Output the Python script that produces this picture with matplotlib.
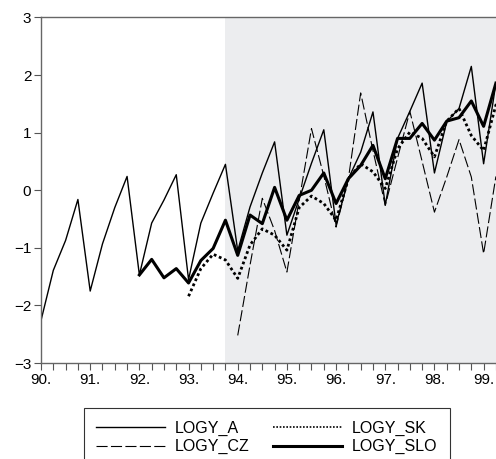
import numpy as np
import matplotlib
matplotlib.use("Agg")
import matplotlib.pyplot as plt
from matplotlib.ticker import MultipleLocator

plt.rcParams['font.family'] = ['Liberation Sans', 'DejaVu Sans']

# quarterly data, 1990Q1 .. 1999Q3
start_year = 90
n_quarters = 39

logy_a = [-2.26, -1.39, -0.87, -0.16, -1.75, -0.93, -0.30, 0.24,
          -1.47, -0.57, -0.17, 0.27, -1.55, -0.57, -0.05, 0.45,
          -1.05, -0.29, 0.30, 0.84, -0.78, -0.15, 0.47, 1.05,
          -0.60, 0.20, 0.66, 1.36, -0.26, 0.90, 1.37, 1.86,
          0.30, 1.19, 1.42, 2.15, 0.46, 1.86]
logy_cz = [-2.52, -1.30, -0.14, -0.70, -1.42, -0.17, 1.07, 0.25,
           -0.64, 0.20, 1.69, 0.69, -0.26, 0.56, 1.37, 0.50,
           -0.38, 0.23, 0.88, 0.23, -1.10, 0.24]
logy_sk = [-1.84, -1.36, -1.11, -1.21, -1.53, -0.95, -0.67, -0.78,
           -1.04, -0.30, -0.10, -0.23, -0.52, 0.20, 0.46, 0.32,
           0.03, 0.72, 1.01, 0.90, 0.58, 1.20, 1.42, 0.95,
           0.69, 1.48, 1.50]
logy_slo = [-1.47, -1.20, -1.52, -1.36, -1.61, -1.22, -1.01, -0.52,
            -1.13, -0.43, -0.58, 0.05, -0.52, -0.09, 0.00, 0.30,
            -0.23, 0.20, 0.43, 0.78, 0.20, 0.90, 0.90, 1.16,
            0.87, 1.20, 1.26, 1.55, 1.11, 1.86]
# first quarter index of each series
first_a, first_cz, first_sk, first_slo = 0, 16, 12, 8
shade_from = 93.75


def place(vals, first):
    out = np.full(n_quarters, np.nan)
    out[first:first + len(vals)] = vals
    return out


x = start_year + np.arange(n_quarters) / 4.0

fig = plt.figure(figsize=(4.96, 4.59), dpi=100)
ax = fig.add_axes([0.0827, 0.209, 0.93, 0.753])

ax.axvspan(shade_from, 100, color='#ecedef', lw=0, zorder=0)

ax.plot(x, place(logy_a, first_a), color='black', lw=1.0, label='LOGY_A')
ax.plot(x, place(logy_sk, first_sk), color='black', lw=2.0,
        linestyle=(0, (1, 1)), label='LOGY_SK')
ax.plot(x, place(logy_cz, first_cz), color='black', lw=0.8,
        linestyle=(0, (10, 3)), label='LOGY_CZ')
ax.plot(x, place(logy_slo, first_slo), color='black', lw=2.2, label='LOGY_SLO')

ax.set_xlim(90.0, 99.38)
ax.set_ylim(-3, 3)
ax.xaxis.set_major_locator(MultipleLocator(1))
ax.xaxis.set_minor_locator(MultipleLocator(0.25))
ax.xaxis.set_major_formatter(lambda v, p: '%d.' % round(v))
ax.yaxis.set_major_locator(MultipleLocator(1))
ax.tick_params(axis='both', direction='out', length=5, width=0.8,
               color='#555555', labelsize=11, pad=2)
ax.tick_params(axis='x', which='minor', direction='out', length=5,
               width=0.8, color='#555555')
for side in ['left', 'top', 'bottom']:
    ax.spines[side].set_color('#666666')
    ax.spines[side].set_linewidth(1.0)
ax.spines['right'].set_visible(False)

handles, labels = ax.get_legend_handles_labels()
order = [0, 2, 1, 3]
leg = fig.legend([handles[i] for i in order], [labels[i] for i in order],
                 loc='upper center', bbox_to_anchor=(0.538, 1 - 408 / 459),
                 borderaxespad=0, ncol=2, fontsize=11.5, frameon=True,
                 fancybox=False, handlelength=4.3, handletextpad=0.6,
                 columnspacing=1.5, labelspacing=0.2, borderpad=0.8)
leg.get_frame().set_edgecolor('black')
leg.get_frame().set_linewidth(0.8)
leg.legend_handles[2].set_linewidth(1.2)

fig.savefig('out.png', dpi=100)
